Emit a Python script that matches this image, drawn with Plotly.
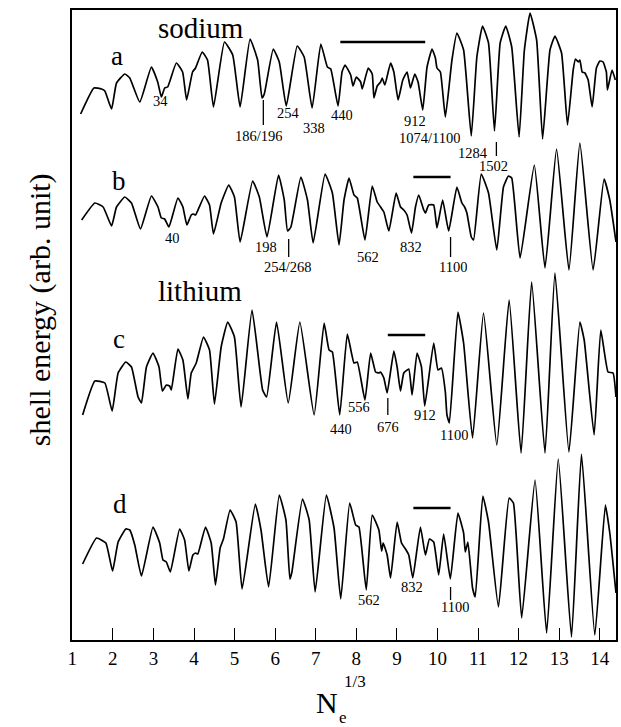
import numpy as np
import plotly.graph_objects as go

# ---- shell energy curves, x = N_e^(1/3), energy in arbitrary units ----
# sodium, a
a_x = [1.206, 1.533, 1.722, 1.803, 1.968, 2.090, 2.294, 2.417, 2.663, 2.950,
       3.105, 3.195, 3.277, 3.350, 3.564, 3.719, 3.817, 3.964, 4.038, 4.202,
       4.333, 4.480, 4.750, 4.954, 5.136, 5.381, 5.568, 5.676, 5.732, 5.953,
       6.101, 6.273, 6.543, 6.715, 6.911, 7.125, 7.287, 7.370, 7.550, 7.648,
       7.722, 7.861, 7.918, 7.999, 8.107, 8.146, 8.294, 8.392, 8.434, 8.515,
       8.598, 8.638, 8.704, 8.844, 8.925, 9.030, 9.146, 9.251, 9.335, 9.441,
       9.522, 9.637, 9.743, 9.865, 9.949, 9.988, 10.072, 10.194, 10.357, 10.479,
       10.644, 10.833, 10.971, 11.110, 11.258, 11.405, 11.545, 11.683, 11.830, 12.012,
       12.142, 12.282, 12.444, 12.591, 12.773, 12.896, 13.058, 13.205, 13.345, 13.402,
       13.468, 13.510, 13.566, 13.633, 13.714, 13.812, 13.917, 14.001, 14.082, 14.163,
       14.188, 14.303, 14.384]
a_e = [2.6, 5.2, 5.1, 4.9, 3.1, 5.7, 6.6, 6.2, 3.8, 7.3,
       5.8, 4.3, 5.2, 5.3, 7.7, 6.8, 4.0, 6.8, 7.2, 8.8,
       8.0, 3.3, 9.8, 8.5, 3.3, 10.1, 8.0, 4.2, 4.6, 9.1,
       7.8, 3.4, 9.4, 8.3, 3.2, 9.6, 7.3, 7.1, 3.4, 6.8,
       7.5, 6.5, 5.4, 6.3, 5.8, 5.1, 7.2, 6.6, 4.2, 5.4,
       5.8, 6.2, 5.5, 7.7, 6.8, 4.0, 6.0, 6.8, 5.2, 6.6,
       5.8, 3.0, 7.3, 9.1, 8.2, 7.2, 6.8, 2.3, 8.0, 10.7,
       9.0, 0.4, 8.3, 11.4, 9.7, 0.9, 9.7, 11.4, 9.3, 0.3,
       9.0, 12.7, 10.0, 0.1, 9.0, 10.4, 8.7, 1.5, 7.0, 8.1,
       7.8, 8.0, 6.8, 6.7, 6.0, 3.3, 7.2, 7.9, 7.8, 6.8,
       5.0, 7.0, 6.0]

# sodium, b
b_x = [1.231, 1.557, 1.761, 1.968, 2.090, 2.294, 2.459, 2.680, 2.950, 3.112,
       3.195, 3.277, 3.382, 3.603, 3.726, 3.824, 3.932, 3.989, 4.038, 4.259,
       4.382, 4.480, 4.669, 4.856, 4.996, 5.136, 5.445, 5.610, 5.799, 6.083,
       6.224, 6.305, 6.388, 6.634, 6.796, 6.936, 7.230, 7.410, 7.574, 7.697,
       7.820, 7.943, 8.024, 8.213, 8.392, 8.515, 8.598, 8.679, 8.802, 8.981,
       9.089, 9.170, 9.251, 9.360, 9.458, 9.539, 9.662, 9.703, 9.784, 9.907,
       9.988, 10.128, 10.276, 10.479, 10.602, 10.669, 10.725, 10.833, 10.890, 11.079,
       11.258, 11.462, 11.626, 11.749, 11.830, 12.036, 12.387, 12.650, 12.935, 13.240,
       13.510, 13.836, 14.106, 14.247, 14.400]
b_e = [6.0, 7.7, 7.3, 5.4, 7.3, 8.3, 7.7, 5.1, 8.4, 7.3,
       6.2, 6.1, 5.3, 8.2, 7.3, 5.5, 6.5, 6.6, 6.5, 8.4,
       7.5, 4.6, 7.7, 9.5, 8.3, 3.8, 9.9, 8.3, 4.3, 10.5,
       8.0, 4.9, 5.3, 10.3, 8.0, 3.7, 10.6, 8.7, 3.5, 8.0,
       10.2, 8.5, 8.2, 4.0, 9.4, 7.8, 7.3, 6.8, 4.9, 8.7,
       7.3, 7.0, 6.5, 4.7, 7.3, 8.5, 7.0, 6.7, 7.5, 7.5,
       5.2, 8.0, 4.9, 9.3, 7.7, 7.3, 6.7, 4.3, 4.0, 10.6,
       8.7, 3.0, 9.3, 10.4, 10.2, 2.2, 11.5, 1.2, 13.1, 1.0,
       13.7, 1.0, 10.1, 8.0, 3.8]

# lithium, c
c_x = [1.255, 1.557, 1.803, 1.982, 2.130, 2.319, 2.459, 2.621, 2.704, 2.827,
       2.989, 3.137, 3.220, 3.318, 3.399, 3.441, 3.603, 3.726, 3.849, 3.932,
       4.055, 4.234, 4.382, 4.504, 4.669, 4.831, 4.996, 5.160, 5.430, 5.691,
       5.789, 6.034, 6.322, 6.609, 6.960, 7.206, 7.329, 7.410, 7.591, 7.778,
       7.943, 8.024, 8.213, 8.353, 8.475, 8.556, 8.598, 8.679, 8.760, 8.925,
       9.006, 9.089, 9.170, 9.293, 9.374, 9.497, 9.605, 9.686, 9.907, 10.013,
       10.096, 10.194, 10.234, 10.293, 10.504, 10.644, 10.865, 11.135, 11.462, 11.766,
       12.061, 12.321, 12.650, 12.896, 13.240, 13.510, 13.616, 13.861, 14.025, 14.204,
       14.327, 14.400]
c_e = [4.5, 7.9, 7.7, 4.9, 8.7, 9.8, 9.3, 6.3, 5.7, 9.3,
       10.7, 9.3, 6.9, 7.5, 7.4, 7.0, 11.1, 10.0, 6.1, 8.7,
       9.7, 12.3, 11.0, 5.6, 11.3, 13.8, 12.3, 5.3, 15.0, 7.0,
       6.3, 13.8, 5.7, 13.8, 4.5, 13.7, 11.0, 10.8, 4.5, 12.6,
       9.7, 9.8, 6.0, 10.7, 8.8, 8.7, 8.8, 8.2, 6.7, 10.9,
       9.3, 6.9, 8.7, 9.1, 6.5, 10.7, 9.3, 5.4, 11.7, 9.0,
       9.2, 6.8, 4.5, 3.7, 14.8, 11.7, 2.2, 14.7, 1.5, 16.0,
       0.7, 17.8, 0.7, 18.7, 0.8, 13.8, 12.0, 2.5, 13.0, 8.8,
       8.7, 6.3]

# lithium, d
d_x = [1.255, 1.599, 1.828, 1.992, 2.130, 2.319, 2.417, 2.540, 2.704, 2.989,
       3.154, 3.235, 3.318, 3.416, 3.645, 3.768, 3.873, 3.972, 4.038, 4.094,
       4.283, 4.423, 4.529, 4.644, 4.725, 4.890, 5.037, 5.185, 5.511, 5.651,
       5.838, 6.101, 6.265, 6.363, 6.413, 6.673, 6.838, 6.985, 7.262, 7.451,
       7.616, 7.837, 7.984, 8.065, 8.245, 8.392, 8.556, 8.623, 8.662, 8.760,
       8.844, 9.006, 9.114, 9.227, 9.293, 9.392, 9.580, 9.703, 9.802, 9.907,
       10.030, 10.153, 10.317, 10.504, 10.644, 10.686, 10.750, 10.865, 10.931, 11.118,
       11.258, 11.503, 11.766, 11.872, 12.075, 12.405, 12.690, 12.977, 13.303, 13.549,
       13.878, 14.138, 14.247, 14.400]
d_e = [7.6, 10.2, 9.7, 6.9, 9.8, 11.1, 11.0, 9.5, 6.4, 11.3,
       9.7, 8.0, 7.8, 6.8, 11.1, 10.0, 6.9, 8.5, 8.7, 8.6,
       11.3, 9.7, 5.5, 9.2, 10.1, 13.0, 11.8, 5.1, 13.6, 11.0,
       5.3, 14.5, 12.0, 6.1, 6.8, 14.1, 12.0, 4.8, 14.5, 11.2,
       4.1, 13.7, 11.5, 11.3, 5.0, 12.5, 11.0, 8.9, 9.7, 8.5,
       6.2, 11.8, 9.7, 9.0, 8.5, 6.2, 11.3, 8.5, 10.1, 9.8,
       6.5, 10.6, 6.1, 12.7, 10.7, 8.8, 9.8, 5.2, 4.3, 14.4,
       11.8, 3.3, 14.2, 13.7, 2.2, 16.0, 0.7, 18.1, 0.3, 18.6,
       0.5, 13.5, 10.7, 4.7]

# vertical offsets of the four stacked curves
offsets = {"a": 50.0, "b": 36.0, "c": 18.0, "d": 0.0}

# magic-number labels: (text, N used for position, x shift px, y)
labels = [
    ("34", 34, -3, 53.9), ("186/196", 186, -4, 50.4), ("254", 254, 0, 52.7),
    ("338", 338, 0, 51.2), ("440", 440, 2, 52.5), ("912", 912, -10, 51.95),
    ("1074/1100", 1074, -17, 50.2), ("1284", 1284, 0, 48.7), ("1502", 1502, -3, 47.4),
    ("40", 40, 2, 40.2), ("198", 198, -2, 39.3), ("254/268", 254, -1, 37.3),
    ("562", 562, 1, 38.3), ("832", 832, -2, 39.3), ("1100", 1100, 2, 37.3),
    ("440", 440, 1, 21.1), ("556", 556, -6, 23.3), ("676", 676, 0, 21.3),
    ("912", 912, 0, 22.5), ("1100", 1100, 3, 20.5),
    ("562", 562, 2, 4.0), ("832", 832, -1, 5.3), ("1100", 1100, 4, 3.3),
]
# short vertical markers: (N, y bottom, y top)
markers = [(186, 51.5, 54.0), (1502, 48.4, 49.8), (254, 38.3, 40.1),
           (1100, 38.3, 40.3), (676, 22.5, 24.2), (1100, 4.0, 5.3)]
# horizontal bars spanning shell-closure ranges: (N start, N end, y)
bars = [(440, 912, 59.8), (832, 1100, 46.3), (676, 912, 30.5), (832, 1100, 13.2)]

# panel names: (text, x, y, size)
panel_text = [("sodium", 4.16, 61.2, 29), ("a", 2.10, 58.4, 27), ("b", 2.15, 45.9, 27),
              ("lithium", 4.14, 34.9, 29), ("c", 2.15, 30.1, 27), ("d", 2.17, 13.6, 27)]

xticks = list(range(1, 15))

SERIF = "Liberation Serif, Times New Roman, serif"

fig = go.Figure()
for key, xs, es in [("a", a_x, a_e), ("b", b_x, b_e), ("c", c_x, c_e), ("d", d_x, d_e)]:
    fig.add_trace(go.Scatter(
        x=xs, y=[e + offsets[key] for e in es], mode="lines",
        line=dict(color="black", width=1.7, shape="spline", smoothing=0.4),
        showlegend=False, hoverinfo="skip"))


def note(x, y, text, size, xref="x", yref="y", **kw):
    return dict(x=x, y=y, xref=xref, yref=yref, text=text, showarrow=False,
                xanchor="center", yanchor="middle",
                font=dict(family=SERIF, size=size, color="black"), **kw)


annotations = []
for text, n, dx, y in labels:
    annotations.append(note(n ** (1 / 3), y, text, 14.5, xshift=dx, height=12))
for text, x, y, size in panel_text:
    annotations.append(note(x, y, text, size))

# axis titles
annotations.append(note(-0.059, 0.525, "shell energy (arb. unit)", 30,
                        xref="paper", yref="paper", textangle=-90))
annotations.append(note((328 - 72) / 546, (640 - 702) / 630, "N", 30,
                        xref="paper", yref="paper"))
annotations.append(note((344 - 72) / 546, (640 - 717) / 630, "e", 17,
                        xref="paper", yref="paper"))
annotations.append(note((356 - 72) / 546, (640 - 681) / 630, "1/3", 17,
                        xref="paper", yref="paper"))

shapes = []
for n, y0, y1 in markers:
    xv = n ** (1 / 3)
    shapes.append(dict(type="line", xref="x", yref="y", x0=xv, x1=xv, y0=y0, y1=y1,
                       line=dict(color="black", width=1.3)))
for n0, n1, y in bars:
    shapes.append(dict(type="line", xref="x", yref="y", x0=n0 ** (1 / 3), x1=n1 ** (1 / 3),
                       y0=y, y1=y, line=dict(color="black", width=2.6)))

fig.update_layout(
    width=621, height=727,
    margin=dict(l=72, r=3, t=10, b=87),
    paper_bgcolor="white", plot_bgcolor="white",
    annotations=annotations, shapes=shapes,
    xaxis=dict(range=[0.993, 14.40], tickvals=xticks, ticktext=[str(t) for t in xticks],
               ticks="inside", ticklen=12, tickwidth=1.3, tickcolor="black",
               showline=True, linecolor="black", linewidth=1.6, mirror=True,
               showgrid=False, zeroline=False,
               tickfont=dict(family=SERIF, size=19, color="black")),
    yaxis=dict(range=[0, 63], showticklabels=False, ticks="",
               showline=True, linecolor="black", linewidth=1.6, mirror=True,
               showgrid=False, zeroline=False),
)

fig.write_html("out.html")
